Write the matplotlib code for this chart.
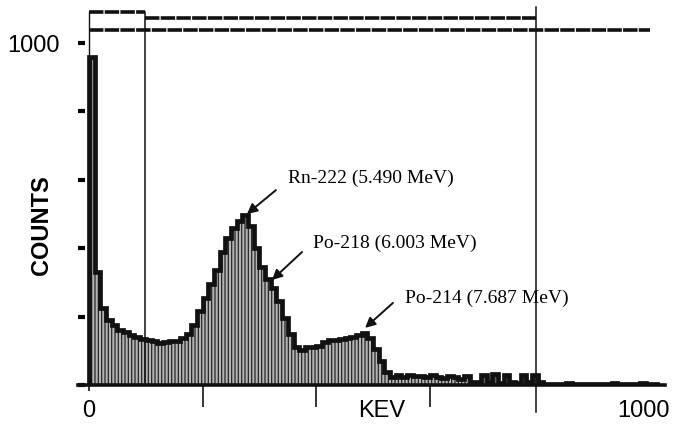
import numpy as np
import matplotlib
matplotlib.use("Agg")
import matplotlib.pyplot as plt
from matplotlib import font_manager

# Alpha spectrum, 10 keV channels from 0 to 1000 keV.
bin_width = 10
counts = [
    960, 330, 225, 190, 175, 162, 155, 145, 140, 135,
    132, 128, 124, 126, 128, 130, 138, 148, 175, 215,
    255, 295, 335, 390, 430, 460, 480, 497, 465, 400,
    345, 310, 285, 245, 195, 150, 112, 102, 110, 112,
    115, 125, 132, 132, 134, 138, 140, 145, 152, 138,
    105, 70, 38, 24, 28, 22, 30, 25, 26, 22,
    28, 24, 20, 27, 22, 18, 26, 10, 8, 30,
    9, 32, 7, 30, 8, 6, 28, 8, 30, 10,
    4, 3, 4, 3, 5, 3, 4, 3, 4, 3,
    4, 3, 5, 3, 4, 3, 4, 5, 3, 4,
]
edges = np.arange(len(counts) + 1) * bin_width

# Peak labels: text, text anchor (keV, counts), arrow tip (keV, counts)
peak_labels = ["Rn-222 (5.490 MeV)", "Po-218 (6.003 MeV)", "Po-214 (7.687 MeV)"]
label_xy = [(350, 605), (394, 415), (556, 254)]
arrow_tip = [(278, 500), (322, 307), (486, 167)]
arrow_tail = [(329, 570), (375, 389), (535, 240)]

# Region-of-interest markers from the analyser screen
roi_left, roi_mid, roi_right = 0, 99, 787

names = {f.name for f in font_manager.fontManager.ttflist}
sans = "Liberation Sans Narrow" if "Liberation Sans Narrow" in names else "Liberation Sans"
serif = "Liberation Serif"

plt.rcParams["hatch.linewidth"] = 0.9

fig = plt.figure(figsize=(6.75, 4.28), dpi=100)
ax = fig.add_axes([0.1156, 0.1005, 0.8696, 0.8995])
ax.set_xlim(-19.4, 1014)
ax.set_ylim(0, 1126)

# Filled spectrum with hatched body and heavy outline
ax.stairs(counts, edges, fill=True, facecolor="#b4b4b4", edgecolor="#262626",
          hatch="|||||", linewidth=0, zorder=2)
ax.stairs(counts, edges, color="#111111", linewidth=3.4, zorder=3)

# ROI boxes at the top
ls = (0, (4, 0.35))
ax.plot([roi_left, roi_mid], [1091, 1091], color="#111111", lw=2.6, ls=ls, zorder=4)
ax.plot([roi_mid, roi_right], [1073, 1073], color="#111111", lw=2.6, ls=ls, zorder=4)
ax.plot([roi_left, 988], [1038, 1038], color="#111111", lw=2.6, ls=ls, zorder=4)
ax.plot([roi_left, roi_left], [0, 1091], color="#111111", lw=1.0, zorder=4)
ax.plot([roi_mid, roi_mid], [0, 1091], color="#111111", lw=1.1, zorder=4)
ax.plot([roi_right, roi_right], [-79, 1105], color="#111111", lw=1.1, zorder=4,
        clip_on=False)

# Peak annotations
for txt, xy, tip, tail in zip(peak_labels, label_xy, arrow_tip, arrow_tail):
    ax.text(xy[0], xy[1], txt, family=serif, fontsize=14, va="center", ha="left")
    ax.annotate("", xy=tip, xytext=tail,
                arrowprops=dict(arrowstyle="-|>", color="#111111", lw=1.4,
                                mutation_scale=15, shrinkA=0, shrinkB=0))

# Axes styling
for s in ["top", "right", "left"]:
    ax.spines[s].set_visible(False)
ax.spines["bottom"].set_linewidth(2.6)
ax.spines["bottom"].set_color("#111111")

ax.set_xticks([200, 400, 600])
ax.set_xticks([0], minor=True)
ax.tick_params(axis="x", which="major", direction="out", length=16, width=1.1,
               labelbottom=False)
ax.tick_params(axis="x", which="minor", direction="out", length=4, width=1.1)

ax.set_yticks([0, 200, 400, 600, 800, 1000])
ax.set_yticklabels(["", "", "", "", "", "1000"], family=sans, fontsize=17)
ax.tick_params(axis="y", direction="in", length=5, width=3, pad=13)

trans = ax.get_xaxis_transform()
ax.text(0, -0.068, "0", transform=trans, family=sans, fontsize=17,
        ha="center", va="center")
ax.text(515, -0.068, "KEV", transform=trans, family=sans, fontsize=17,
        ha="center", va="center")
ax.text(977, -0.068, "1000", transform=trans, family=sans, fontsize=17,
        ha="center", va="center")
ax.text(-0.063, 0.415, "COUNTS", transform=ax.transAxes, family=sans,
        fontsize=17, fontweight="bold", rotation=90, ha="center", va="center")

fig.savefig("out.png", dpi=100)
